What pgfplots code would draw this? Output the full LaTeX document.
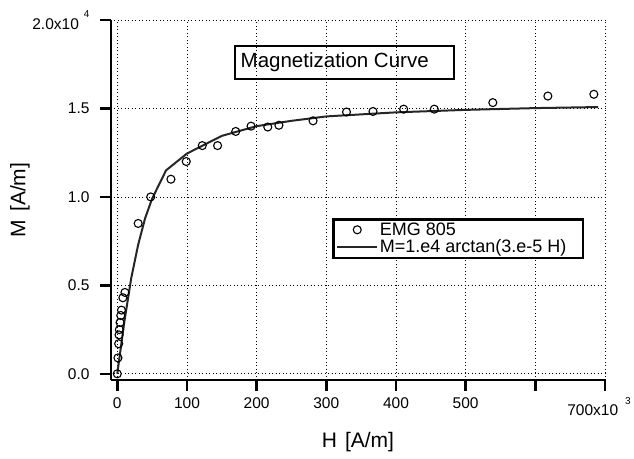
\documentclass[border=0pt]{standalone}
\usepackage{fontspec}
\setmainfont{Liberation Sans}
\usepackage{pgfplots}
\pgfplotsset{compat=1.18}
\usetikzlibrary{calc}

\begin{document}
\begin{tikzpicture}
\begin{axis}[
  scale only axis,
  width=494pt,height=360pt,
  xmin=-9,xmax=700,ymin=-0.035,ymax=2.0,
  axis x line=bottom,axis y line=left,
  axis line style={-,line width=2.5pt},
  tick align=outside,major tick length=11pt,
  tick style={line width=2.5pt,black},
  xtick={0,100,200,300,400,500,600,700},
  xticklabels={0,100,200,300,400,500,{},{\hspace*{-12pt}700x10\hspace{7pt}\raisebox{0.7em}{\fontsize{10}{10}\selectfont 3}}},
  ytick={0,0.5,1,1.5,2},
  yticklabels={0.0,0.5,1.0,1.5,{2.0x10\hspace{5pt}\raisebox{0.8em}{\fontsize{10}{10}\selectfont 4}}},
  /pgf/number format/assume math mode=true,
  tick label style={font=\fontsize{15.5}{17}\selectfont},
  yticklabel style={xshift=-7pt},
  xticklabel style={yshift=-3pt},
  grid=major,
  grid style={black,line width=0.8pt,dash pattern=on 0.9pt off 2.6pt},
  xlabel={H\hspace{8pt}[A/m]},ylabel={M\hspace{8pt}[A/m]},
  label style={font=\fontsize{21}{25}\selectfont},
  xlabel style={at={(rel axis cs:0.5,0)},anchor=center,yshift=-62pt},
  ylabel style={at={(rel axis cs:0,0.5)},anchor=center,yshift=91pt},
  legend style={at={(rel axis cs:0.4474,0.45)},anchor=north west,
    draw=black,line width=2.5pt,fill=white,
    font=\fontsize{18}{21}\selectfont,
    inner xsep=3pt,inner ysep=2pt,row sep=0pt,
    nodes={inner sep=1.5pt}},
  legend cell align=left,
  mark legend/.style={legend image code/.code={\draw[##1,only marks] plot coordinates {(20pt,0pt)};
    \path[draw=none] (0pt,0pt) -- (40pt,0pt);}},
  long line legend/.style={legend image code/.code={\draw[##1] (0pt,0pt) -- (40pt,0pt);}},
]
\coordinate (sw) at (rel axis cs:0,0);

\addplot[only marks,mark=o,mark size=4pt,black,mark options={line width=1.1pt},mark legend]
  coordinates {
  (0,0) (1,0.09) (2,0.17) (2.5,0.22) (3,0.25) (4,0.29) (5,0.33) (6,0.36)
  (8,0.43) (11,0.46) (30,0.85) (48,1.00) (77,1.10) (99,1.20) (122,1.29)
  (144,1.29) (170,1.37) (192,1.40) (216,1.395) (232,1.405) (281,1.43)
  (329,1.48) (367,1.483) (411,1.496) (455,1.496) (539,1.533) (618,1.57)
  (684,1.58)};
\addlegendentry{EMG 805}

\addplot[black!85,line width=2pt,mark=none,long line legend]
  coordinates {
  (0,0) (10,0.29) (20,0.54) (30,0.73) (40,0.88) (50,0.99) (70,1.15)
  (100,1.245) (150,1.345) (200,1.40) (250,1.43) (300,1.455) (400,1.478)
  (500,1.492) (600,1.502) (690,1.508)};
\addlegendentry{M=1.e4 arctan(3.e-5 H)\hspace*{12pt}}
\end{axis}

\draw[line width=2.5pt] ($(sw)+(124pt,301pt)$) rectangle ($(sw)+(343pt,334pt)$);
\node[anchor=west,inner sep=0pt,font=\fontsize{20.5}{24}\selectfont]
  at ($(sw)+(129.5pt,317.5pt)$) {Magnetization Curve};

\pgfresetboundingbox
\path ($(sw)+(-111pt,-78pt)$) rectangle ($(sw)+(523pt,380pt)$);
\end{tikzpicture}
\end{document}
